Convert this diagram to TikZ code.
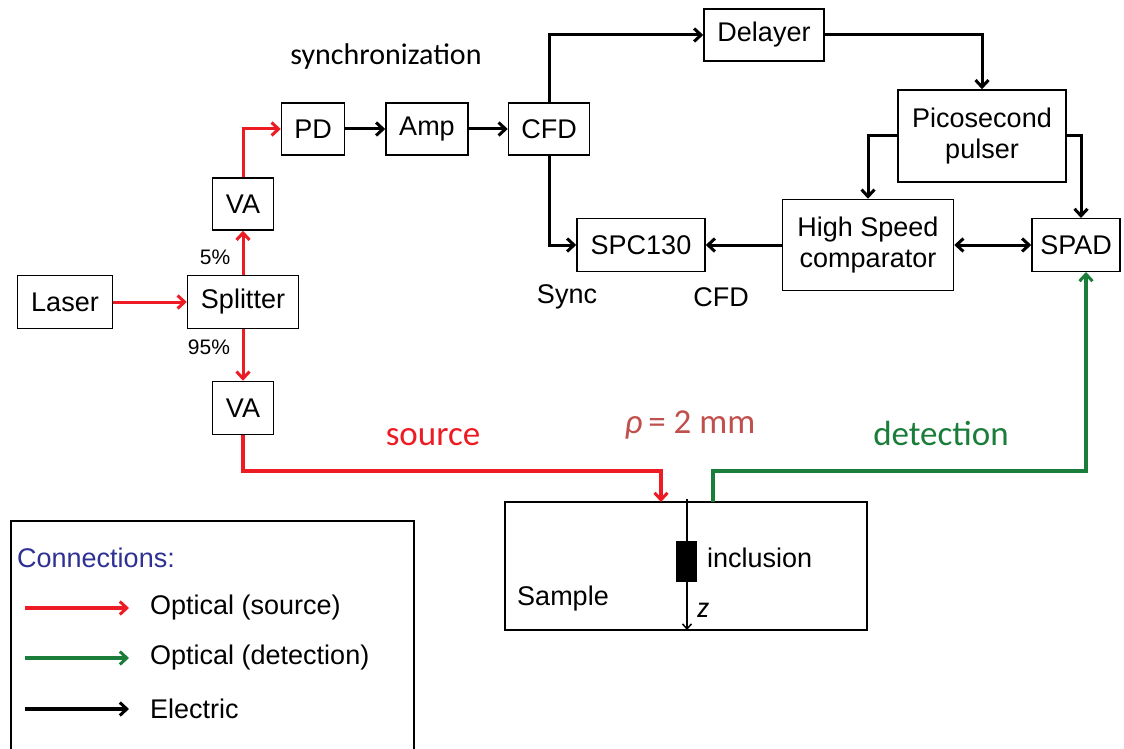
\documentclass[tikz,border=0pt]{standalone}
\usepackage{fontspec}
\setmainfont{Liberation Sans}
\newfontfamily\calfont{Carlito}
\usetikzlibrary{arrows.meta}
\definecolor{optred}{HTML}{ED1C24}
\definecolor{optgreen}{HTML}{1A7D3A}
\definecolor{rhocol}{HTML}{C0504D}
\definecolor{legblue}{HTML}{2E3192}
\tikzset{
  tip/.tip={Straight Barb[length=7pt,width=13pt,line width=3pt]},
  box/.style={draw, line width=1.5pt, inner sep=0pt, align=center,
    font=\fontsize{27}{31}\selectfont},
  elec/.style={line width=3pt, -tip},
  opt/.style={line width=3pt, optred, -tip},
  det/.style={line width=4pt, optgreen, -tip},
  lbl/.style={inner sep=0pt, font=\fontsize{27}{31}\selectfont},
  small/.style={inner sep=0pt, font=\fontsize{21}{25}\selectfont},
  cal/.style={inner sep=0pt, font=\calfont\fontsize{#1}{#1}\selectfont},
}
\begin{document}
\begin{tikzpicture}[x=1pt,y=-1pt]
\useasboundingbox (0,0) rectangle (1124,749);
\clip (0,0) rectangle (1124,749);
\fill[white] (0,0) rectangle (1124,749);
% boxes
\node[box, minimum width=95pt, minimum height=53pt] (laser) at (65,302) {Laser};
\node[box, minimum width=111pt, minimum height=53pt] (split) at (243,302) {Splitter};
\node[box, minimum width=61pt, minimum height=52pt] (vaup) at (243,204) {VA};
\node[box, minimum width=61pt, minimum height=53pt] (valow) at (243,408) {VA};
\node[box, minimum width=63pt, minimum height=52pt] (pd) at (313,129) {PD};
\node[box, minimum width=82pt, minimum height=52pt] (amp) at (427,129) {Amp};
\node[box, minimum width=81pt, minimum height=52pt] (cfd) at (549,129) {CFD};
\node[box, minimum width=120pt, minimum height=52pt] (delay) at (764,35) {Delayer};
\node[box, minimum width=168pt, minimum height=92pt] (pico) at (982,136) {Picosecond\\pulser};
\node[box, minimum width=171pt, minimum height=91pt] (hs) at (868,245) {High Speed\\comparator};
\node[box, minimum width=88pt, minimum height=53pt] (spad) at (1076,245) {SPAD};
\node[box, minimum width=128pt, minimum height=53pt] (spc) at (641,245) {SPC130};
\node[draw, line width=1.5pt, minimum width=362pt, minimum height=128pt, inner sep=0pt] (sample) at (686,566) {};
% labels
\node[cal=30] (sync) at (386,57) {synchronization};
\node[small] (p5) at (215,257) {5\%};
\node[small] (p95) at (209,347) {95\%};
\node[lbl] (synclbl) at (567,297) {Sync};
\node[lbl] (cfdlbl) at (721,297) {CFD};
\node[cal=35, text=optred] (src) at (433,437) {source};
\node[cal=35, text=rhocol] (rho) at (690,425) {\textit{ρ}\,= 2 mm};
\node[cal=35, text=optgreen] (detl) at (941,433) {detection};
% optical source path
\draw[opt] (laser.east) -- (split.west);
\draw[opt] (split.north) -- (vaup.south);
\draw[opt] (vaup.north) |- (pd.west);
\draw[opt] (split.south) -- (valow.north);
\coordinate (srcin) at (661,502);
\draw[opt, line width=4pt] (valow.south) |- (661,471) -- (srcin);
% electric
\draw[elec] (pd.east) -- (amp.west);
\draw[elec] (amp.east) -- (cfd.west);
\draw[elec] (cfd.north) |- (delay.west);
\draw[elec] (delay.east) -| (pico.north);
\draw[elec] (pico.west) -| (hs.north);
\coordinate (spadtop) at (1081,218);
\draw[elec] (pico.east) -| (spadtop);
\draw[elec] (cfd.south) |- (spc.west);
\draw[elec] (hs.west) -- (spc.east);
\draw[line width=3pt, tip-tip] (hs.east) -- (spad.west);
% detection path
\coordinate (detout) at (713,502);
\coordinate (spadbot) at (1086,272);
\draw[det] (detout) |- (1086,471) -- (spadbot);
% sample internals
\coordinate (ztop) at (687,499);
\coordinate (zbot) at (687,630);
\draw[line width=1.5pt, -{Straight Barb[length=5pt,width=9pt]}] (ztop) -- (zbot);
\fill (676,541) rectangle (697,582);
\node[lbl, anchor=west] (incl) at (707,558) {inclusion};
\node[lbl] (samp) at (563,599) {Sample};
\node[cal=30, anchor=west] (zl) at (697,610) {\textit{z}};
% legend
\draw[line width=2pt] (11,521) rectangle (414,790);
\node[lbl, anchor=west, text=legblue] (conn) at (17,558) {Connections:};
\coordinate (l1a) at (25,608); \coordinate (l1b) at (129,608);
\coordinate (l2a) at (25,658); \coordinate (l2b) at (129,658);
\coordinate (l3a) at (25,709); \coordinate (l3b) at (129,709);
\draw[opt, line width=4pt] (l1a) -- (l1b);
\draw[det] (l2a) -- (l2b);
\draw[elec, line width=4pt] (l3a) -- (l3b);
\node[lbl, anchor=west] (t1) at (150,608) {Optical (source)};
\node[lbl, anchor=west] (t2) at (150,658) {Optical (detection)};
\node[lbl, anchor=west] (t3) at (150,709) {Electric};
\end{tikzpicture}
\end{document}
